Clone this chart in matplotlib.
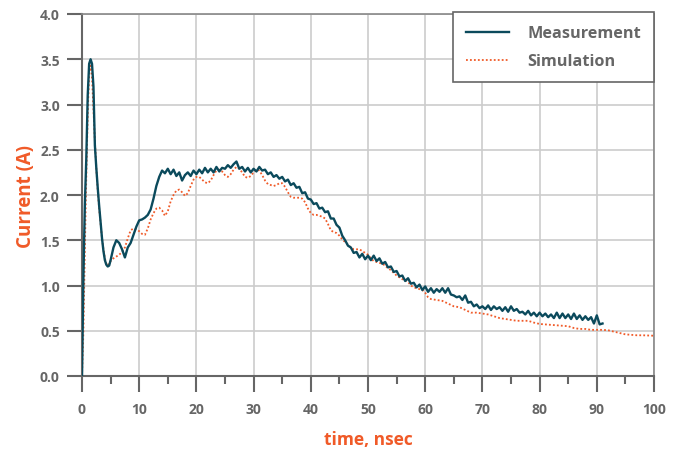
import matplotlib
matplotlib.use("Agg")
import matplotlib.pyplot as plt
from matplotlib.ticker import MultipleLocator

plt.rcParams['font.family'] = ['Open Sans', 'DejaVu Sans']

# Measurement (time in ns, current in A)
meas_t = [0, 0.25, 0.5, 0.75, 1.0, 1.25, 1.5, 1.75, 2.0, 2.25, 2.5, 2.75, 3.0, 3.25, 3.5, 3.75, 4.0, 4.25, 4.5, 4.75,
          5, 5.5, 6, 6.5, 7, 7.5, 8, 8.5, 9, 9.5,
          10, 10.5, 11, 11.5, 12, 12.5, 13, 13.5, 14, 14.5,
          15, 15.5, 16, 16.5, 17, 17.5, 18, 18.5, 19, 19.5,
          20, 20.5, 21, 21.5, 22, 22.5, 23, 23.5, 24, 24.5,
          25, 25.5, 26, 26.5, 27, 27.5, 28, 28.5, 29, 29.5,
          30, 30.5, 31, 31.5, 32, 32.5, 33, 33.5, 34, 34.5,
          35, 35.5, 36, 36.5, 37, 37.5, 38, 38.5, 39, 39.5,
          40, 40.5, 41, 41.5, 42, 42.5, 43, 43.5, 44, 44.5,
          45, 45.5, 46, 46.5, 47, 47.5, 48, 48.5, 49, 49.5,
          50, 50.5, 51, 51.5, 52, 52.5, 53, 53.5, 54, 54.5,
          55, 55.5, 56, 56.5, 57, 57.5, 58, 58.5, 59, 59.5,
          60, 60.5, 61, 61.5, 62, 62.5, 63, 63.5, 64, 64.5,
          65, 65.5, 66, 66.5, 67, 67.5, 68, 68.5, 69, 69.5,
          70, 70.5, 71, 71.5, 72, 72.5, 73, 73.5, 74, 74.5,
          75, 75.5, 76, 76.5, 77, 77.5, 78, 78.5, 79, 79.5,
          80, 80.5, 81, 81.5, 82, 82.5, 83, 83.5, 84, 84.5,
          85, 85.5, 86, 86.5, 87, 87.5, 88, 88.5, 89, 89.5,
          90, 90.5, 91]
meas_i = [0.0, 1.1, 1.9, 2.4, 3.1, 3.45, 3.5, 3.45, 3.2, 2.55, 2.3, 2.08, 1.88, 1.7, 1.52, 1.38, 1.28, 1.23, 1.21, 1.22,
          1.28, 1.42, 1.50, 1.47, 1.40, 1.31, 1.42, 1.47, 1.56, 1.65,
          1.72, 1.73, 1.75, 1.78, 1.84, 1.96, 2.10, 2.20, 2.27, 2.24,
          2.29, 2.23, 2.28, 2.21, 2.25, 2.16, 2.22, 2.25, 2.21, 2.27,
          2.23, 2.28, 2.24, 2.30, 2.25, 2.29, 2.25, 2.31, 2.26, 2.30,
          2.29, 2.33, 2.30, 2.34, 2.37, 2.29, 2.31, 2.26, 2.30, 2.25,
          2.29, 2.26, 2.31, 2.27, 2.28, 2.23, 2.25, 2.20, 2.22, 2.18,
          2.20, 2.15, 2.17, 2.11, 2.13, 2.08, 2.09, 2.02, 2.03, 1.96,
          1.95, 1.90, 1.91, 1.85, 1.86, 1.81, 1.82, 1.74, 1.74, 1.67,
          1.64, 1.55, 1.50, 1.44, 1.42, 1.36, 1.37, 1.31, 1.35, 1.29,
          1.33, 1.28, 1.33, 1.27, 1.30, 1.24, 1.26, 1.20, 1.21, 1.15,
          1.16, 1.10, 1.11, 1.05, 1.08, 1.02, 1.03, 0.98, 1.01, 0.95,
          0.99, 0.93, 0.97, 0.92, 0.96, 0.93, 0.97, 0.92, 0.97, 0.90,
          0.89, 0.87, 0.88, 0.84, 0.89, 0.81, 0.82, 0.77, 0.79, 0.75,
          0.77, 0.74, 0.78, 0.73, 0.77, 0.74, 0.76, 0.72, 0.76, 0.71,
          0.77, 0.72, 0.74, 0.70, 0.71, 0.68, 0.72, 0.67, 0.70, 0.66,
          0.70, 0.66, 0.69, 0.65, 0.68, 0.64, 0.70, 0.64, 0.69, 0.64,
          0.68, 0.63, 0.69, 0.63, 0.67, 0.62, 0.66, 0.62, 0.65, 0.58,
          0.67, 0.57, 0.58]

# Simulation
sim_t = [0, 0.25, 0.5, 0.75, 1.0, 1.25, 1.5, 1.75, 2.0, 2.25, 2.5, 2.75, 3.0, 3.25, 3.5, 3.75, 4.0, 4.25, 4.5,
         5, 5.5, 6, 6.5, 7, 7.5, 8, 8.5, 9, 9.5,
         10, 10.5, 11, 11.5, 12, 12.5, 13, 13.5, 14, 14.5,
         15, 15.5, 16, 16.5, 17, 17.5, 18, 18.5, 19, 19.5,
         20, 20.5, 21, 21.5, 22, 22.5, 23, 23.5, 24, 24.5,
         25, 25.5, 26, 26.5, 27, 27.5, 28, 28.5, 29, 29.5,
         30, 30.5, 31, 31.5, 32, 32.5, 33, 33.5, 34, 34.5,
         35, 35.5, 36, 36.5, 37, 37.5, 38, 38.5, 39, 39.5,
         40, 40.5, 41, 41.5, 42, 42.5, 43, 43.5, 44, 44.5,
         45, 45.5, 46, 46.5, 47, 47.5, 48, 48.5, 49, 49.5,
         50, 50.5, 51, 51.5, 52, 52.5, 53, 53.5, 54, 54.5,
         55, 55.5, 56, 56.5, 57, 57.5, 58, 58.5, 59, 59.5,
         60, 60.5, 61,
         62, 63, 64, 65, 66, 67, 68, 69, 70, 71, 72, 73, 74, 75, 76, 77, 78, 79, 80,
         81, 82, 83, 84, 85, 86, 87, 88, 89, 90, 91, 92, 93, 94, 95, 96, 97, 98, 99, 100]
sim_i = [0.0, 0.5, 1.4, 2.2, 2.9, 3.35, 3.43, 3.3, 2.95, 2.6, 2.3, 2.05, 1.85, 1.68, 1.52, 1.40, 1.30, 1.24, 1.22,
         1.27, 1.30, 1.32, 1.34, 1.37, 1.42, 1.52, 1.61, 1.63, 1.62,
         1.60, 1.57, 1.56, 1.63, 1.73, 1.80, 1.85, 1.86, 1.83, 1.77,
         1.82, 1.93, 2.00, 2.05, 2.06, 2.03, 1.99, 2.02, 2.10, 2.17,
         2.20, 2.20, 2.17, 2.14, 2.13, 2.16, 2.22, 2.27, 2.28, 2.26,
         2.22, 2.20, 2.23, 2.28, 2.31, 2.29, 2.25, 2.20, 2.19, 2.21,
         2.25, 2.28, 2.27, 2.22, 2.16, 2.12, 2.11, 2.10, 2.11, 2.13,
         2.13, 2.09, 2.03, 1.98, 1.97, 1.97, 1.97, 1.96, 1.92, 1.85,
         1.80, 1.78, 1.78, 1.77, 1.76, 1.74, 1.68, 1.61, 1.59, 1.58,
         1.55, 1.51, 1.48, 1.45, 1.42, 1.40, 1.40, 1.40, 1.38, 1.36,
         1.34, 1.30, 1.27, 1.26, 1.25, 1.24, 1.22, 1.19, 1.17, 1.14,
         1.11, 1.09, 1.07, 1.06, 1.04, 1.00, 0.98, 0.97, 0.96, 0.95,
         0.92, 0.87, 0.85,
         0.84, 0.83, 0.80, 0.77, 0.76, 0.73, 0.70, 0.70, 0.69, 0.68, 0.66, 0.64, 0.63, 0.62, 0.61, 0.61, 0.61, 0.59, 0.575,
         0.57, 0.565, 0.56, 0.555, 0.55, 0.53, 0.52, 0.52, 0.51, 0.51, 0.51, 0.505, 0.49, 0.475, 0.46, 0.455, 0.45, 0.45, 0.448, 0.445]

x_ticks = [0, 10, 20, 30, 40, 50, 60, 70, 80, 90, 100]
y_ticks = [0.0, 0.5, 1.0, 1.5, 2.0, 2.5, 3.0, 3.5, 4.0]

meas_color = '#0b4a5c'
sim_color = '#f05a28'
tick_grey = '#666666'

fig = plt.figure(figsize=(6.75, 4.52), dpi=100)
ax = fig.add_axes([82/675, 1-377/452, (654-82)/675, (377-15)/452])

ax.plot(meas_t, meas_i, color=meas_color, lw=1.7, label='Measurement', zorder=3)
ax.plot(sim_t, sim_i, color=sim_color, lw=1.3, ls=(0, (1, 1.2)), label='Simulation', zorder=2)

ax.set_xlim(0, 100)
ax.set_ylim(0, 4.0)
ax.set_xticks(x_ticks)
ax.set_yticks(y_ticks)
ax.set_yticklabels([f'{v:.1f}' for v in y_ticks])
ax.xaxis.set_minor_locator(MultipleLocator(5))

ax.grid(True, which='major', color='#cccccc', lw=1.2)
ax.set_axisbelow(True)

for s in ['left', 'bottom']:
    ax.spines[s].set_color('#666666')
    ax.spines[s].set_linewidth(1.5)
for s in ['top', 'right']:
    ax.spines[s].set_color('#888888')
    ax.spines[s].set_linewidth(1.2)

ax.tick_params(axis='x', which='major', length=11.5, width=1.5, color=tick_grey, pad=7,
               labelsize=10, labelcolor=tick_grey)
ax.tick_params(axis='x', which='minor', length=6, width=1.5, color=tick_grey)
ax.tick_params(axis='y', which='major', length=11, width=1.5, color=tick_grey, pad=5,
               labelsize=10, labelcolor=tick_grey)
for lab in ax.get_xticklabels() + ax.get_yticklabels():
    lab.set_fontweight('bold')

ax.set_xlabel('time, nsec', color=sim_color, fontsize=12.5, fontweight='bold', labelpad=10)
ax.set_ylabel('Current (A)', color=sim_color, fontsize=13.5, fontweight='bold', labelpad=3)

leg = ax.legend(loc='upper right', bbox_to_anchor=(1.0, 1.005), borderaxespad=0, fancybox=False,
                frameon=True, fontsize=11.7, handlelength=2.65, handletextpad=1.1, borderpad=0.8,
                labelspacing=0.75)
leg.get_frame().set_edgecolor('#666666')
leg.get_frame().set_linewidth(1.2)
leg.get_frame().set_facecolor('white')
leg.get_frame().set_alpha(1)
for t in leg.get_texts():
    t.set_color(tick_grey)
    t.set_fontweight('bold')

fig.savefig('out.png', dpi=100)
